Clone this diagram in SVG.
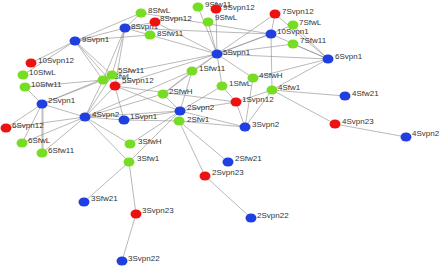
<svg xmlns="http://www.w3.org/2000/svg" width="447" height="267" viewBox="0 0 447 267">
<style>
.e line{stroke:#8a8a8a;stroke-width:0.6}
.g{fill:#77dd22}
.r{fill:#ee1111}
.b{fill:#1f3fe0}
text{font-family:"Liberation Sans",Arial,sans-serif;font-size:8px;fill:#333}
</style>
<rect width="447" height="267" fill="#fff"/>
<g id="connectors" class="e">
<line x1="75" y1="41" x2="125" y2="28"/>
<line x1="75" y1="41" x2="141" y2="13"/>
<line x1="75" y1="41" x2="150" y2="35"/>
<line x1="75" y1="41" x2="31" y2="63"/>
<line x1="75" y1="41" x2="23" y2="75"/>
<line x1="75" y1="41" x2="103" y2="80"/>
<line x1="75" y1="41" x2="112" y2="75"/>
<line x1="75" y1="41" x2="115" y2="86"/>
<line x1="125" y1="28" x2="141" y2="13"/>
<line x1="125" y1="28" x2="155" y2="22"/>
<line x1="125" y1="28" x2="150" y2="35"/>
<line x1="125" y1="28" x2="103" y2="80"/>
<line x1="125" y1="28" x2="112" y2="75"/>
<line x1="125" y1="28" x2="115" y2="86"/>
<line x1="125" y1="28" x2="271" y2="34"/>
<line x1="141" y1="13" x2="271" y2="34"/>
<line x1="155" y1="22" x2="217" y2="54"/>
<line x1="150" y1="35" x2="217" y2="54"/>
<line x1="198" y1="7" x2="217" y2="54"/>
<line x1="216" y1="9" x2="217" y2="54"/>
<line x1="208" y1="22" x2="217" y2="54"/>
<line x1="271" y1="34" x2="217" y2="54"/>
<line x1="271" y1="34" x2="328" y2="59"/>
<line x1="271" y1="34" x2="272" y2="90"/>
<line x1="271" y1="34" x2="275" y2="14"/>
<line x1="275" y1="14" x2="328" y2="59"/>
<line x1="293" y1="25" x2="328" y2="59"/>
<line x1="293" y1="44" x2="328" y2="59"/>
<line x1="293" y1="44" x2="217" y2="54"/>
<line x1="275" y1="14" x2="217" y2="54"/>
<line x1="293" y1="25" x2="217" y2="54"/>
<line x1="217" y1="54" x2="328" y2="59"/>
<line x1="217" y1="54" x2="192" y2="71"/>
<line x1="217" y1="54" x2="222" y2="86"/>
<line x1="217" y1="54" x2="253" y2="78"/>
<line x1="217" y1="54" x2="115" y2="86"/>
<line x1="217" y1="54" x2="112" y2="75"/>
<line x1="217" y1="54" x2="163" y2="94"/>
<line x1="328" y1="59" x2="253" y2="78"/>
<line x1="328" y1="59" x2="272" y2="90"/>
<line x1="272" y1="90" x2="345" y2="96"/>
<line x1="272" y1="90" x2="335" y2="124"/>
<line x1="335" y1="124" x2="406" y2="137"/>
<line x1="272" y1="90" x2="245" y2="127"/>
<line x1="272" y1="90" x2="236" y2="102"/>
<line x1="253" y1="78" x2="245" y2="127"/>
<line x1="222" y1="86" x2="236" y2="102"/>
<line x1="192" y1="71" x2="163" y2="94"/>
<line x1="192" y1="71" x2="180" y2="111"/>
<line x1="192" y1="71" x2="85" y2="117"/>
<line x1="222" y1="86" x2="180" y2="111"/>
<line x1="236" y1="102" x2="180" y2="111"/>
<line x1="179" y1="121" x2="245" y2="127"/>
<line x1="180" y1="111" x2="245" y2="127"/>
<line x1="163" y1="94" x2="180" y2="111"/>
<line x1="163" y1="94" x2="85" y2="117"/>
<line x1="180" y1="111" x2="85" y2="117"/>
<line x1="180" y1="111" x2="124" y2="120"/>
<line x1="179" y1="121" x2="124" y2="120"/>
<line x1="180" y1="111" x2="130" y2="144"/>
<line x1="180" y1="111" x2="129" y2="162"/>
<line x1="179" y1="121" x2="228" y2="162"/>
<line x1="179" y1="121" x2="205" y2="176"/>
<line x1="205" y1="176" x2="251" y2="218"/>
<line x1="129" y1="162" x2="84" y2="202"/>
<line x1="129" y1="162" x2="136" y2="214"/>
<line x1="136" y1="214" x2="122" y2="261"/>
<line x1="85" y1="117" x2="130" y2="144"/>
<line x1="85" y1="117" x2="129" y2="162"/>
<line x1="85" y1="117" x2="124" y2="120"/>
<line x1="85" y1="117" x2="6" y2="128"/>
<line x1="85" y1="117" x2="22" y2="143"/>
<line x1="85" y1="117" x2="42" y2="153"/>
<line x1="85" y1="117" x2="42" y2="104"/>
<line x1="85" y1="117" x2="103" y2="80"/>
<line x1="85" y1="117" x2="112" y2="75"/>
<line x1="85" y1="117" x2="115" y2="86"/>
<line x1="42" y1="104" x2="42" y2="153"/>
<line x1="43" y1="104" x2="43" y2="153"/>
<line x1="42" y1="104" x2="22" y2="143"/>
<line x1="42" y1="104" x2="6" y2="128"/>
<line x1="42" y1="104" x2="25" y2="87"/>
<line x1="42" y1="104" x2="103" y2="80"/>
<line x1="42" y1="104" x2="112" y2="75"/>
<line x1="25" y1="87" x2="103" y2="80"/>
<line x1="115" y1="86" x2="124" y2="120"/>
<line x1="115" y1="86" x2="180" y2="111"/>
<line x1="115" y1="86" x2="236" y2="102"/>
<line x1="245" y1="127" x2="236" y2="102"/>
</g>
<g id="n-9Svpn1"><ellipse class="b" cx="75" cy="41" rx="5.5" ry="4.5"/><text x="82" y="42">9Svpn1</text></g>
<g id="n-8SfwL"><ellipse class="g" cx="141" cy="13" rx="5.5" ry="4.5"/><text x="148" y="13">8SfwL</text></g>
<g id="n-8Svpn1"><ellipse class="b" cx="125" cy="28" rx="5.5" ry="4.5"/><text x="131" y="29">8Svpn1</text></g>
<g id="n-8Svpn12"><ellipse class="r" cx="155" cy="22" rx="5.5" ry="4.5"/><text x="160" y="21">8Svpn12</text></g>
<g id="n-8Sfw11"><ellipse class="g" cx="150" cy="35" rx="5.5" ry="4.5"/><text x="157" y="36">8Sfw11</text></g>
<g id="n-9Sfw11"><ellipse class="g" cx="198" cy="7" rx="5.5" ry="4.5"/><text x="205" y="7">9Sfw11</text></g>
<g id="n-9Svpn12"><ellipse class="r" cx="216" cy="9" rx="5.5" ry="4.5"/><text x="223" y="10">9Svpn12</text></g>
<g id="n-9SfwL"><ellipse class="g" cx="208" cy="22" rx="5.5" ry="4.5"/><text x="215" y="20">9SfwL</text></g>
<g id="n-7Svpn12"><ellipse class="r" cx="275" cy="14" rx="5.5" ry="4.5"/><text x="282" y="14">7Svpn12</text></g>
<g id="n-7SfwL"><ellipse class="g" cx="293" cy="25" rx="5.5" ry="4.5"/><text x="299" y="25">7SfwL</text></g>
<g id="n-10Svpn1"><ellipse class="b" cx="271" cy="34" rx="5.5" ry="4.5"/><text x="277" y="34">10Svpn1</text></g>
<g id="n-7Sfw11"><ellipse class="g" cx="293" cy="44" rx="5.5" ry="4.5"/><text x="300" y="43">7Sfw11</text></g>
<g id="n-6Svpn1"><ellipse class="b" cx="328" cy="59" rx="5.5" ry="4.5"/><text x="335" y="59">6Svpn1</text></g>
<g id="n-5Svpn1"><ellipse class="b" cx="217" cy="54" rx="5.5" ry="4.5"/><text x="223" y="55">5Svpn1</text></g>
<g id="n-1Sfw11"><ellipse class="g" cx="192" cy="71" rx="5.5" ry="4.5"/><text x="199" y="71">1Sfw11</text></g>
<g id="n-4SfwH"><ellipse class="g" cx="253" cy="78" rx="5.5" ry="4.5"/><text x="259" y="78">4SfwH</text></g>
<g id="n-1SfwL"><ellipse class="g" cx="222" cy="86" rx="5.5" ry="4.5"/><text x="229" y="86">1SfwL</text></g>
<g id="n-4Sfw1"><ellipse class="g" cx="272" cy="90" rx="5.5" ry="4.5"/><text x="278" y="90">4Sfw1</text></g>
<g id="n-1Svpn12"><ellipse class="r" cx="236" cy="102" rx="5.5" ry="4.5"/><text x="242" y="102">1Svpn12</text></g>
<g id="n-4Sfw21"><ellipse class="b" cx="345" cy="96" rx="5.5" ry="4.5"/><text x="352" y="96">4Sfw21</text></g>
<g id="n-4Svpn23"><ellipse class="r" cx="335" cy="124" rx="5.5" ry="4.5"/><text x="342" y="124">4Svpn23</text></g>
<g id="n-4Svpn2b"><ellipse class="b" cx="406" cy="137" rx="5.5" ry="4.5"/><text x="412" y="136">4Svpn2</text></g>
<g id="n-2SfwH"><ellipse class="g" cx="163" cy="94" rx="5.5" ry="4.5"/><text x="169" y="94">2SfwH</text></g>
<g id="n-2Svpn2"><ellipse class="b" cx="180" cy="111" rx="5.5" ry="4.5"/><text x="187" y="110">2Svpn2</text></g>
<g id="n-2Sfw1"><ellipse class="g" cx="179" cy="121" rx="5.5" ry="4.5"/><text x="187" y="122">2Sfw1</text></g>
<g id="n-1Svpn1"><ellipse class="b" cx="124" cy="120" rx="5.5" ry="4.5"/><text x="130" y="119">1Svpn1</text></g>
<g id="n-3Svpn2"><ellipse class="b" cx="245" cy="127" rx="5.5" ry="4.5"/><text x="252" y="127">3Svpn2</text></g>
<g id="n-3SfwH"><ellipse class="g" cx="130" cy="144" rx="5.5" ry="4.5"/><text x="138" y="144">3SfwH</text></g>
<g id="n-3Sfw1"><ellipse class="g" cx="129" cy="162" rx="5.5" ry="4.5"/><text x="137" y="161">3Sfw1</text></g>
<g id="n-2Sfw21"><ellipse class="b" cx="228" cy="162" rx="5.5" ry="4.5"/><text x="235" y="161">2Sfw21</text></g>
<g id="n-2Svpn23"><ellipse class="r" cx="205" cy="176" rx="5.5" ry="4.5"/><text x="212" y="175">2Svpn23</text></g>
<g id="n-2Svpn22"><ellipse class="b" cx="251" cy="218" rx="5.5" ry="4.5"/><text x="257" y="218">2Svpn22</text></g>
<g id="n-3Sfw21"><ellipse class="b" cx="84" cy="202" rx="5.5" ry="4.5"/><text x="91" y="201">3Sfw21</text></g>
<g id="n-3Svpn23"><ellipse class="r" cx="136" cy="214" rx="5.5" ry="4.5"/><text x="142" y="213">3Svpn23</text></g>
<g id="n-3Svpn22"><ellipse class="b" cx="122" cy="261" rx="5.5" ry="4.5"/><text x="128" y="261">3Svpn22</text></g>
<g id="n-10Svpn12"><ellipse class="r" cx="31" cy="63" rx="5.5" ry="4.5"/><text x="38" y="63">10Svpn12</text></g>
<g id="n-10SfwL"><ellipse class="g" cx="23" cy="75" rx="5.5" ry="4.5"/><text x="29" y="75">10SfwL</text></g>
<g id="n-10Sfw11"><ellipse class="g" cx="25" cy="87" rx="5.5" ry="4.5"/><text x="31" y="87">10Sfw11</text></g>
<g id="n-5SfwL"><ellipse class="g" cx="103" cy="80" rx="5.5" ry="4.5"/><text x="109" y="79">5SfwL</text></g>
<g id="n-5Sfw11"><ellipse class="g" cx="112" cy="75" rx="5.5" ry="4.5"/><text x="118" y="73">5Sfw11</text></g>
<g id="n-5Svpn12"><ellipse class="r" cx="115" cy="86" rx="5.5" ry="4.5"/><text x="122" y="83">5Svpn12</text></g>
<g id="n-2Svpn1"><ellipse class="b" cx="42" cy="104" rx="5.5" ry="4.5"/><text x="48" y="103">2Svpn1</text></g>
<g id="n-4Svpn2"><ellipse class="b" cx="85" cy="117" rx="5.5" ry="4.5"/><text x="92" y="117">4Svpn2</text></g>
<g id="n-6Svpn12"><ellipse class="r" cx="6" cy="128" rx="5.5" ry="4.5"/><text x="12" y="128">6Svpn12</text></g>
<g id="n-6SfwL"><ellipse class="g" cx="22" cy="143" rx="5.5" ry="4.5"/><text x="28" y="143">6SfwL</text></g>
<g id="n-6Sfw11"><ellipse class="g" cx="42" cy="153" rx="5.5" ry="4.5"/><text x="48" y="153">6Sfw11</text></g>
</svg>
